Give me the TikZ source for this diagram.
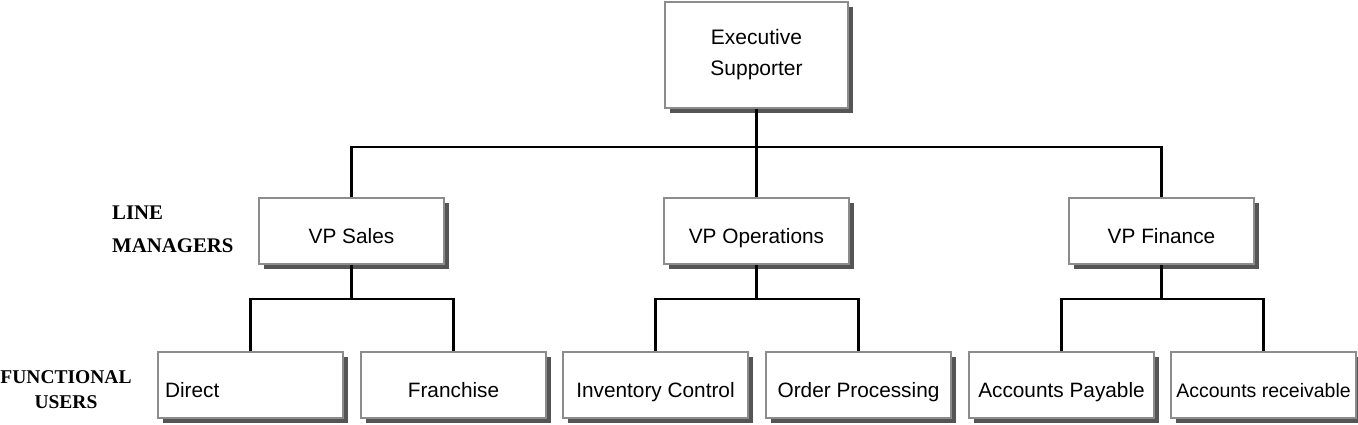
\documentclass[tikz,border=0pt]{standalone}
\usepackage{fontspec}
\setmainfont{Liberation Sans}
\newfontfamily\labelfont{Liberation Serif}
\usetikzlibrary{shadows}
\definecolor{boxline}{HTML}{8C8C8C}
\definecolor{shadowgray}{HTML}{555555}
\tikzset{
  orgbox/.style={draw=boxline, line width=1.5pt, fill=white, inner sep=0pt,
    minimum width=185pt, minimum height=66pt,
    font=\fontsize{20.8}{24}\selectfont,
    text height=30pt, text depth=5.4pt,
    drop shadow={shadow xshift=5pt, shadow yshift=-5pt, fill=shadowgray, opacity=1}},
  conn/.style={line width=2.2pt, black},
  sidelabel/.style={inner sep=0pt, font=\labelfont\bfseries\fontsize{20.8}{33}\selectfont}
}
\begin{document}
\begin{tikzpicture}[x=1pt,y=-1pt]
\useasboundingbox (0,0) rectangle (1358,425);
% top
\node[orgbox, text height=, text depth=, minimum width=183pt, minimum height=106pt, align=center,
  font=\fontsize{21}{31}\selectfont] (exec) at (756.5,55) {Executive\\Supporter};
% VPs
\node[orgbox] (sales) at (351.5,231) {VP Sales};
\node[orgbox] (ops) at (756.5,231) {VP Operations};
\node[orgbox] (fin) at (1161.5,231) {VP Finance};
% functional users
\node[orgbox, text width=171pt, align=left] (direct) at (250.5,385) {Direct};
\node[orgbox] (franch) at (453.5,385) {Franchise};
\node[orgbox] (inv) at (655.5,385) {Inventory Control};
\node[orgbox] (order) at (858.5,385) {Order Processing};
\node[orgbox] (pay) at (1061.5,385) {Accounts Payable};
\node[orgbox, font=\fontsize{19.5}{24}\selectfont] (recv) at (1263.5,385) {Accounts receivable};
% side labels
\node[sidelabel, anchor=north west, align=left] (linemgr) at (112,206) {LINE\\MANAGERS};
\node[sidelabel, anchor=north, align=center, font=\labelfont\bfseries\fontsize{19.5}{25}\selectfont] (funcusers) at (66,370) {FUNCTIONAL\\USERS};
% connectors
\draw[conn] (exec.south) -- ++(0,38) coordinate (j0);
\draw[conn] (sales.north) |- (j0) -| (fin.north);
\draw[conn] (ops.north) -- (ops.north |- j0);
\draw[conn] (sales.south) -- ++(0,34) coordinate (j1);
\draw[conn] (direct.north) |- (j1) -| (franch.north);
\draw[conn] (ops.south) -- ++(0,34) coordinate (j2);
\draw[conn] (inv.north) |- (j2) -| (order.north);
\draw[conn] (fin.south) -- ++(0,34) coordinate (j3);
\draw[conn] (pay.north) |- (j3) -| (recv.north);
\end{tikzpicture}
\end{document}
